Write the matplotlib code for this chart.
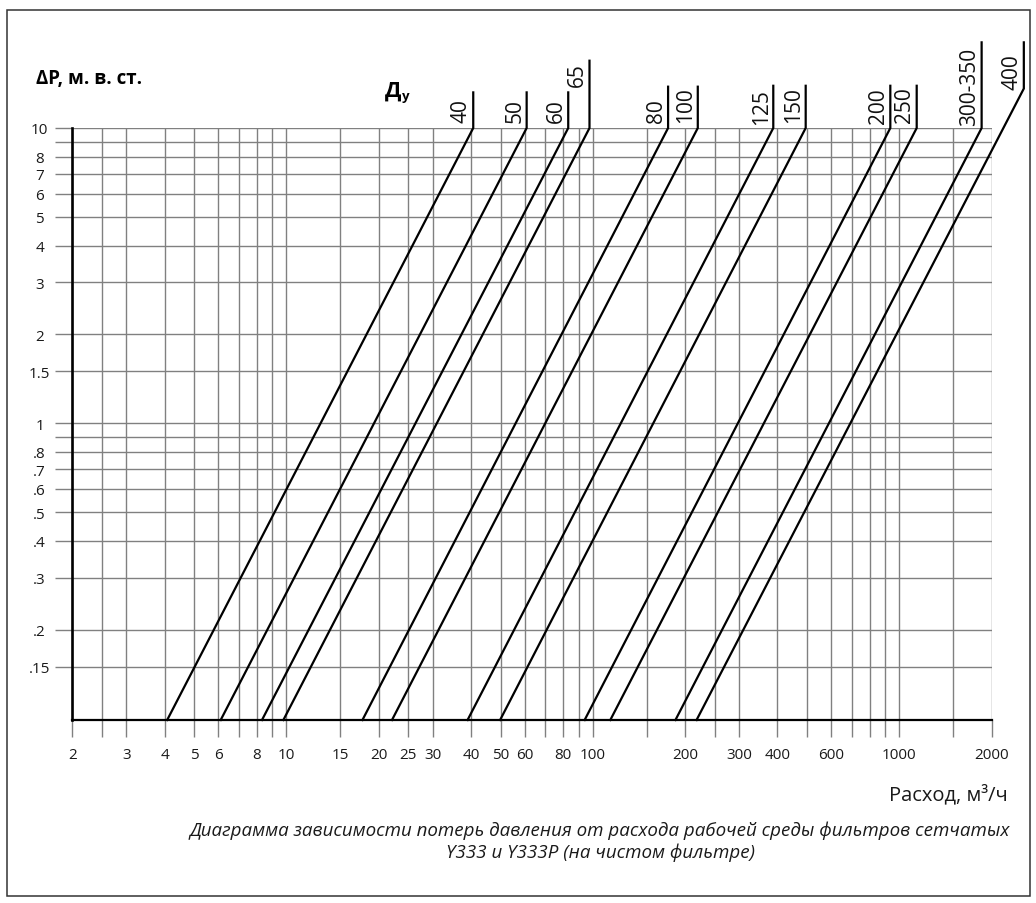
import numpy as np
import matplotlib
matplotlib.use('Agg')
import matplotlib.pyplot as plt
import matplotlib.transforms as mtransforms
from matplotlib.patches import Rectangle

plt.rcParams['font.family'] = ['Open Sans', 'DejaVu Sans']

# ---------------- data ----------------
dn_labels = ['40', '50', '60', '65', '80', '100', '125', '150', '200', '250', '300-350', '400']
# flow (m3/h) where each line starts on the bottom of the chart (dP = dp_min)
q_start = [4.08, 6.10, 8.32, 9.77, 17.7, 22.1, 39.0, 49.8, 94.0, 114, 186, 218]
# end of the sloped part of each line
q_end = [40.7, 60.8, 83.1, 97.5, 176, 220, 388, 495, 935, 1140, 1857, 2550]
dp_end = [10, 10, 10, 10, 10, 10, 10, 10, 10, 10, 10, 13.6]
# top of the vertical leader line
dp_leader_top = [13.2, 13.2, 13.2, 16.9, 13.8, 13.8, 13.9, 13.9, 13.9, 13.9, 19.5, 19.5]
# lower end of each DN label
dp_label_base = [10.5, 10.5, 10.5, 13.9, 10.5, 10.5, 10.3, 10.5, 10.4, 10.5, 10.2, 13.6]

dp_min, dp_max = 0.0989, 10.0
q_min, q_max = 2.0, 2000.0

x_grid = [2, 2.5, 3, 4, 5, 6, 7, 8, 9, 10, 15, 20, 25, 30, 40, 50, 60, 70, 80, 90,
          100, 150, 200, 250, 300, 400, 500, 600, 700, 800, 900, 1000, 1500, 2000]
x_labeled = {2: '2', 3: '3', 4: '4', 5: '5', 6: '6', 8: '8', 10: '10', 15: '15', 20: '20',
             25: '25', 30: '30', 40: '40', 50: '50', 60: '60', 80: '80', 100: '100',
             200: '200', 300: '300', 400: '400', 600: '600', 1000: '1000', 2000: '2000'}
y_grid = [10, 9, 8, 7, 6, 5, 4, 3, 2, 1.5, 1, 0.9, 0.8, 0.7, 0.6, 0.5, 0.4, 0.3, 0.2, 0.15]
y_labeled = {10: '10', 8: '8', 7: '7', 6: '6', 5: '5', 4: '4', 3: '3', 2: '2', 1.5: '1.5',
             1: '1', 0.8: '.8', 0.7: '.7', 0.6: '.6', 0.5: '.5', 0.4: '.4', 0.3: '.3',
             0.2: '.2', 0.15: '.15'}

y_title = 'ΔP, м. в. ст.'
x_title = 'Расход, м\u00b3/ч'
caption = ('Диаграмма зависимости потерь давления от расхода рабочей среды фильтров сетчатых\n'
           'Y333 и Y333P (на чистом фильтре)')

# ---------------- figure ----------------
W, H = 1036, 904
fig = plt.figure(figsize=(W / 100, H / 100), dpi=100)
fig.patch.set_facecolor('white')

def fx(px):
    return px / W

def fy(py):
    return 1 - py / H

ax_left, ax_right, ax_top, ax_bottom = 72.3, 991.5, 129.0, 721.0
ax = fig.add_axes([fx(ax_left), fy(ax_bottom), (ax_right - ax_left) / W, (ax_bottom - ax_top) / H])
ax.set_xscale('log')
ax.set_yscale('log')
ax.set_xlim(q_min, q_max)
ax.set_ylim(dp_min, dp_max)

grid_col = '#808080'
ax.set_xticks(x_grid)
ax.set_xticklabels([x_labeled.get(v, '') for v in x_grid])
ax.set_yticks(y_grid)
ax.set_yticklabels([y_labeled.get(v, '') for v in y_grid])
ax.minorticks_off()
ax.grid(True, which='major', color=grid_col, lw=1.0)
ax.set_axisbelow(True)
ax.tick_params(axis='both', which='major', direction='out', length=12.5, width=1.0,
               color=grid_col, labelsize=11, labelcolor='#1a1a1a')
ax.tick_params(axis='x', pad=7)
ax.tick_params(axis='y', pad=11)
plt.setp(ax.get_yticklabels(), ha='center')

for s in ['top', 'right']:
    ax.spines[s].set_visible(False)
ax.spines['left'].set_linewidth(1.9)
ax.spines['bottom'].set_linewidth(1.6)
ax.spines['left'].set_color('black')
ax.spines['bottom'].set_color('black')

label_tr = mtransforms.offset_copy(ax.transData, fig=fig, x=-1.5, y=0, units='dots')
for lab, q0, q1, d1, dtop, dlab in zip(dn_labels, q_start, q_end, dp_end, dp_leader_top, dp_label_base):
    ax.plot([q0, q1, q1], [dp_min, d1, dtop], color='black', lw=1.6, clip_on=False,
            solid_joinstyle='miter', zorder=3)
    ax.text(q1, dlab, lab, rotation=90, ha='right', va='bottom', fontsize=15,
            color='#111111', transform=label_tr, clip_on=False)

# titles
fig.text(fx(36), fy(84), y_title, fontsize=13.5, fontweight='bold', ha='left', va='baseline')
fig.text(fx(385), fy(97), 'Д', fontsize=15.5, fontweight='bold', ha='left', va='baseline')
fig.text(fx(402), fy(100), 'у', fontsize=9.5, fontweight='bold', ha='left', va='baseline')
fig.text(fx(1008), fy(800.5), x_title, fontsize=14.5, ha='right', va='baseline', color='#1a1a1a')
fig.text(fx(600), fy(858), caption, fontsize=13.5, style='italic', ha='center', va='baseline',
         linespacing=1.25, color='#1a1a1a')

# frame
fig.patches.append(Rectangle((fx(6.5), fy(897)), fx(1030) - fx(6.5), fy(11) - fy(897),
                             transform=fig.transFigure, fill=False, lw=1.1, edgecolor='#333333'))

fig.savefig('out.png', dpi=100, facecolor='white')
